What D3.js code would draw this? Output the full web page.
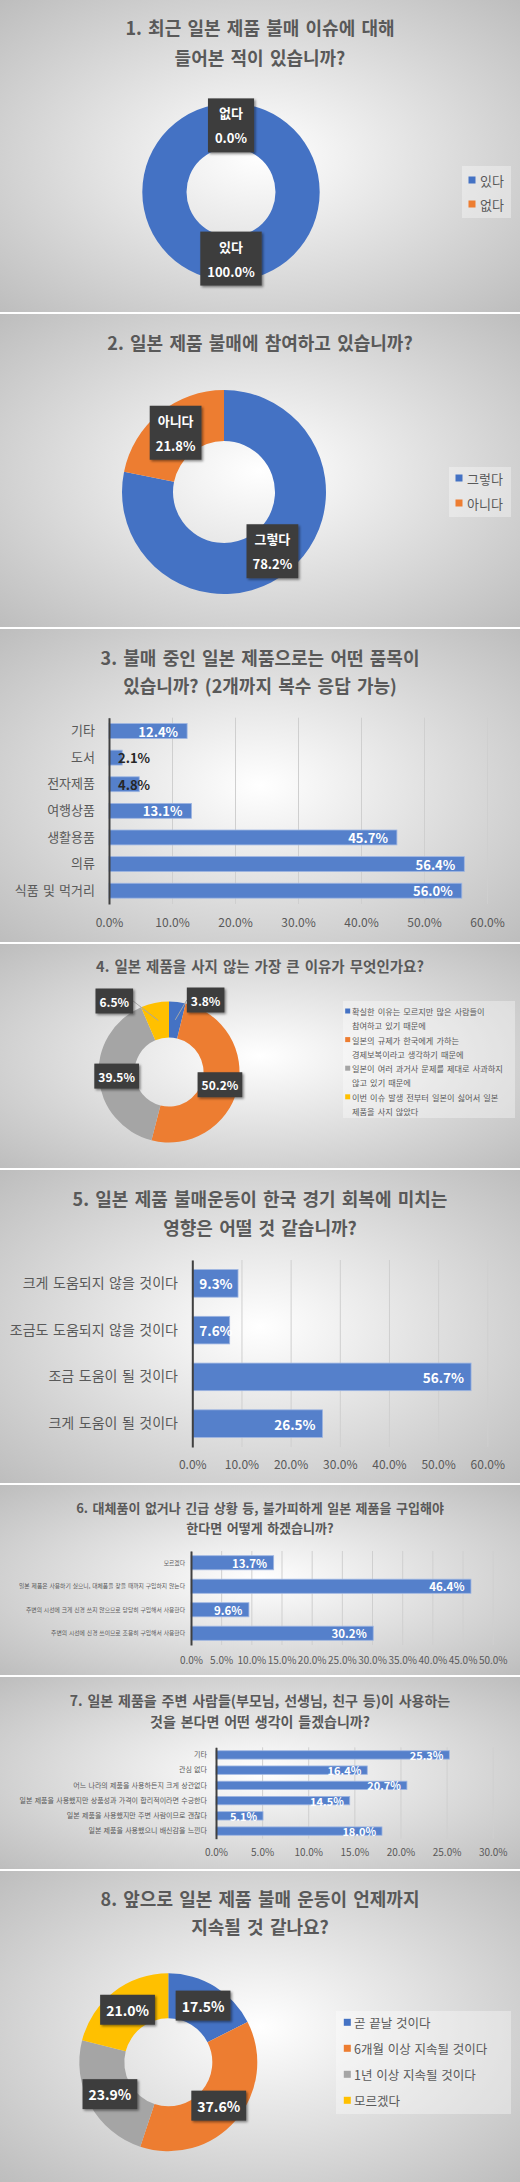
<!DOCTYPE html>
<html>
<head>
<meta charset="UTF-8">
<title>일본 제품 불매 설문</title>
<script src="https://d3js.org/d3.v7.min.js"></script>
<style>
  body { margin: 0; background: #fff; }
  svg text { font-family: "Noto Sans CJK KR", "Noto Sans", sans-serif; }
</style>
</head>
<body>
<div id="chart"></div>
<script>
// ---- data ----
const sliceColors = ["#4472C4", "#ED7D31", "#A5A5A5", "#FFC000"];

const q1Title = ["1. 최근 일본 제품 불매 이슈에 대해", "들어본 적이 있습니까?"];
const q1Labels = ["있다", "없다"];
const q1Values = [100.0, 0.0];

const q2Title = ["2. 일본 제품 불매에 참여하고 있습니까?"];
const q2Labels = ["그렇다", "아니다"];
const q2Values = [78.2, 21.8];

const q3Title = ["3. 불매 중인 일본 제품으로는 어떤 품목이", "있습니까? (2개까지 복수 응답 가능)"];
const q3Categories = ["기타", "도서", "전자제품", "여행상품", "생활용품", "의류", "식품 및 먹거리"];
const q3Values = [12.4, 2.1, 4.8, 13.1, 45.7, 56.4, 56.0];

const q4Title = ["4. 일본 제품을 사지 않는 가장 큰 이유가 무엇인가요?"];
const q4Legend = [
  ["확실한 이유는 모르지만 많은 사람들이", "참여하고 있기 때문에"],
  ["일본의 규제가 한국에게 가하는", "경제보복이라고 생각하기 때문에"],
  ["일본이 여러 과거사 문제를 제대로 사과하지", "않고 있기 때문에"],
  ["이번 이슈 발생 전부터 일본이 싫어서 일본", "제품을 사지 않았다"]
];
const q4Values = [3.8, 50.2, 39.5, 6.5];

const q5Title = ["5. 일본 제품 불매운동이 한국 경기 회복에 미치는", "영향은 어떨 것 같습니까?"];
const q5Categories = ["크게 도움되지 않을 것이다", "조금도 도움되지 않을 것이다", "조금 도움이 될 것이다", "크게 도움이 될 것이다"];
const q5Values = [9.3, 7.6, 56.7, 26.5];

const q6Title = ["6. 대체품이 없거나 긴급 상황 등, 불가피하게 일본 제품을 구입해야", "한다면 어떻게 하겠습니까?"];
const q6Categories = [
  "모르겠다",
  "일본 제품은 사용하기 싫으니, 대체품을 찾을 때까지 구입하지 않는다",
  "주변의 시선에 크게 신경 쓰지 않으므로 당당히 구입해서 사용한다",
  "주변의 시선에 신경 쓰이므로 조용히 구입해서 사용한다"
];
const q6Values = [13.7, 46.4, 9.6, 30.2];

const q7Title = ["7. 일본 제품을 주변 사람들(부모님, 선생님, 친구 등)이 사용하는", "것을 본다면 어떤 생각이 들겠습니까?"];
const q7Categories = [
  "기타",
  "관심 없다",
  "어느 나라의 제품을 사용하든지 크게 상관없다",
  "일본 제품을 사용했지만 상품성과 가격이 합리적이라면 수긍한다",
  "일본 제품을 사용했지만 주변 사람이므로 괜찮다",
  "일본 제품을 사용했으니 배신감을 느낀다"
];
const q7Values = [25.3, 16.4, 20.7, 14.5, 5.1, 18.0];

const q8Title = ["8. 앞으로 일본 제품 불매 운동이 언제까지", "지속될 것 같나요?"];
const q8Labels = ["곧 끝날 것이다", "6개월 이상 지속될 것이다", "1년 이상 지속될 것이다", "모르겠다"];
const q8Values = [17.5, 37.6, 23.9, 21.0];

// ---- layout ----
const W = 520, H = 2182;
const panelBounds = [[0, 312], [314, 627], [629, 942], [944, 1168], [1170, 1483], [1485, 1675], [1677, 1869], [1871, 2182]];
const textColor = "#595959";
const pct = v => v.toFixed(1) + "%";

const svg = d3.select("#chart").append("svg")
    .attr("width", W)
    .attr("height", H);

const defs = svg.append("defs");
const grad = defs.append("radialGradient").attr("id", "bg")
    .attr("cx", "50%").attr("cy", "50%").attr("r", "72%");
grad.append("stop").attr("offset", "0%").attr("stop-color", "#ffffff");
grad.append("stop").attr("offset", "100%").attr("stop-color", "#bcbcbc");

const shadow = defs.append("filter").attr("id", "shadow")
    .attr("x", "-20%").attr("y", "-20%").attr("width", "150%").attr("height", "150%");
shadow.append("feDropShadow").attr("dx", 1.5).attr("dy", 1.5).attr("stdDeviation", 1)
    .attr("flood-color", "#000").attr("flood-opacity", 0.45);

panelBounds.forEach(([y0, y1]) => {
  svg.append("rect")
      .attr("x", 0).attr("y", y0)
      .attr("width", W).attr("height", y1 - y0)
      .attr("fill", "url(#bg)");
});

function drawTitle(lines, ys, size) {
  lines.forEach((t, i) => {
    svg.append("text")
        .attr("x", W / 2).attr("y", ys[i])
        .attr("text-anchor", "middle")
        .attr("dominant-baseline", "central")
        .attr("font-size", size)
        .attr("font-weight", "bold")
        .attr("word-spacing", size * 0.12)
        .attr("fill", textColor)
        .text(t);
  });
}

function labelBox(parent, x, y, lines, o) {
  const g = parent.append("g");
  const rect = g.append("rect");
  const n = lines.length;
  let maxW = 0;
  lines.forEach((t, k) => {
    const tx = g.append("text")
        .attr("x", x).attr("y", y + (k - (n - 1) / 2) * o.lineGap)
        .attr("text-anchor", "middle")
        .attr("dominant-baseline", "central")
        .attr("font-size", o.font)
        .attr("font-weight", "bold")
        .attr("fill", "#fff")
        .text(t);
    maxW = Math.max(maxW, tx.node().getComputedTextLength());
  });
  const w = maxW + 2 * o.padX, h = o.boxH;
  rect.attr("x", x - w / 2).attr("y", y - h / 2)
      .attr("width", w).attr("height", h)
      .attr("fill", "#3d3d3d")
      .attr("filter", "url(#shadow)");
  return { g, x: x - w / 2, w };
}

function drawDonut(o) {
  const g = svg.append("g").attr("transform", `translate(${o.cx},${o.cy})`);
  const arcs = d3.pie().sort(null)(o.values);
  const arc = d3.arc().innerRadius(o.rInner).outerRadius(o.rOuter);

  g.selectAll("path")
    .data(arcs)
    .join("path")
      .attr("d", arc)
      .attr("fill", (d, i) => sliceColors[i]);

  arcs.forEach((d, i) => {
    let [lx, ly] = arc.centroid(d);
    const lines = o.names ? [o.names[i], pct(d.data)] : [pct(d.data)];
    const nudge = o.nudge ? o.nudge[i] : 0;
    const anchor = [lx, ly];
    if (nudge) {
      const mid = (d.startAngle + d.endAngle) / 2;
      const r = o.rOuter + 2;
      lx = Math.sin(mid) * r + nudge;
      ly = -Math.cos(mid) * r;
    }
    const box = labelBox(g, lx, ly, lines, o);
    if (nudge) {
      const ex = nudge > 0 ? box.x : box.x + box.w;
      g.insert("line", () => box.g.node())
          .attr("x1", ex).attr("y1", ly)
          .attr("x2", anchor[0]).attr("y2", anchor[1])
          .attr("stroke", "#a6a6a6")
          .attr("stroke-width", 1);
    }
  });
}

function drawLegend(o) {
  svg.append("rect")
      .attr("x", o.x).attr("y", o.y)
      .attr("width", o.w).attr("height", o.h)
      .attr("fill", "#fff").attr("fill-opacity", 0.35);
  o.entries.forEach((lines, i) => {
    const ry = o.firstY + i * o.rowGap;
    svg.append("rect")
        .attr("x", o.markerX - o.marker / 2).attr("y", ry - o.marker / 2)
        .attr("width", o.marker).attr("height", o.marker)
        .attr("fill", sliceColors[i]);
    [].concat(lines).forEach((t, k) => {
      svg.append("text")
          .attr("x", o.textX).attr("y", ry + k * (o.lineGap || 0))
          .attr("dominant-baseline", "central")
          .attr("font-size", o.font)
          .attr("word-spacing", o.wordSpacing || 0)
          .attr("fill", textColor)
          .text(t);
    });
  });
}

function drawBars(o) {
  const x = d3.scaleLinear().domain([0, o.max]).range([o.x0, o.x1]);
  const y = d3.scaleBand().domain(o.categories).range([o.top, o.bottom])
      .paddingInner(o.padding).paddingOuter(o.padding / 2);
  const ticks = d3.range(0, o.max + o.step / 2, o.step);

  // gridlines
  svg.append("g")
      .attr("transform", `translate(0,${o.bottom})`)
      .call(d3.axisBottom(x).tickValues(ticks).tickSize(-(o.bottom - o.top)).tickFormat(""))
      .call(g => g.select(".domain").remove())
      .call(g => g.selectAll("line").attr("stroke", "#cfcfcf").attr("stroke-width", 1));

  // tick labels
  svg.append("g")
      .attr("transform", `translate(0,${o.bottom})`)
      .call(d3.axisBottom(x).tickValues(ticks).tickSize(0).tickFormat(pct))
      .call(g => g.select(".domain").remove())
      .call(g => g.selectAll("text")
          .attr("y", o.tickY - o.bottom).attr("dy", "0.35em")
          .attr("font-size", o.tickFont)
          .attr("fill", textColor));

  // bars
  svg.append("g")
    .selectAll("rect")
    .data(o.values)
    .join("rect")
      .attr("x", x(0))
      .attr("y", (d, i) => y(o.categories[i]))
      .attr("width", d => x(d) - x(0))
      .attr("height", y.bandwidth())
      .attr("fill", "#5580CB")
      .attr("stroke", "#9fb6e2")
      .attr("stroke-width", 0.8);

  // category axis
  svg.append("g")
      .attr("transform", `translate(${o.x0},0)`)
      .call(d3.axisLeft(y).tickSize(0).tickSizeOuter(0).tickPadding(o.x0 - o.catX))
      .call(g => g.select(".domain").attr("stroke", "#404040").attr("stroke-width", 2))
      .call(g => g.selectAll("text")
          .attr("font-size", o.catFont)
          .attr("word-spacing", o.catFont * 0.1)
          .attr("fill", textColor));

  // value labels
  const vg = svg.append("g");
  o.values.forEach((v, i) => {
    const end = x(v) - o.valuePad;
    const t = vg.append("text")
        .attr("x", end)
        .attr("y", y(o.categories[i]) + y.bandwidth() / 2)
        .attr("text-anchor", "end")
        .attr("dominant-baseline", "central")
        .attr("font-size", o.valueFont)
        .attr("font-weight", "bold")
        .attr("fill", "#fff")
        .text(pct(v));
    const tw = t.node().getComputedTextLength();
    if (end - tw < x(0) + o.valuePad) {
      t.attr("text-anchor", "start").attr("x", x(0) + o.valuePad).attr("fill", o.overflowColor);
    }
  });
}

// ---- 1 ----
drawTitle(q1Title, [27, 57], 18);
drawDonut({ cx: 231, cy: 192, rOuter: 88.7, rInner: 44.5, values: q1Values, names: q1Labels,
  font: 13, lineGap: 25, boxH: 54, padX: 7 });
drawLegend({ x: 462, y: 166, w: 49, h: 52, entries: q1Labels, firstY: 180, rowGap: 24,
  markerX: 472, textX: 480, marker: 7, font: 13 });

// ---- 2 ----
drawTitle(q2Title, [342], 18);
drawDonut({ cx: 224, cy: 492, rOuter: 102, rInner: 51, values: q2Values, names: q2Labels,
  font: 13, lineGap: 25, boxH: 54, padX: 6 });
drawLegend({ x: 449, y: 467, w: 62, h: 50, entries: q2Labels, firstY: 478, rowGap: 25,
  markerX: 459, textX: 467, marker: 7, font: 13 });

// ---- 3 ----
drawTitle(q3Title, [657, 685], 18);
drawBars({ categories: q3Categories, values: q3Values, max: 60, step: 10,
  x0: 109, x1: 487, top: 717.7, bottom: 904, padding: 0.44,
  catX: 95, catFont: 13, tickY: 923, tickFont: 12, valueFont: 13, valuePad: 9, overflowColor: "#262626" });

// ---- 4 ----
drawTitle(q4Title, [965], 14.5);
drawDonut({ cx: 169, cy: 1072, rOuter: 70.5, rInner: 34.5, values: q4Values,
  font: 12, lineGap: 0, boxH: 25, padX: 4, nudge: [28, 0, 0, -40] });
drawLegend({ x: 343, y: 1001, w: 172, h: 117, entries: q4Legend, firstY: 1011, rowGap: 28.6, lineGap: 14,
  markerX: 347.7, textX: 352, marker: 5, font: 8.2, wordSpacing: 1.2 });

// ---- 5 ----
drawTitle(q5Title, [1198, 1227], 18);
drawBars({ categories: q5Categories, values: q5Values, max: 60, step: 10,
  x0: 192.3, x1: 487.3, top: 1260, bottom: 1447, padding: 0.41,
  catX: 178, catFont: 14, tickY: 1465, tickFont: 12, valueFont: 13.5, valuePad: 7, overflowColor: "#fff" });

// ---- 6 ----
drawTitle(q6Title, [1507, 1527], 13);
drawBars({ categories: q6Categories, values: q6Values, max: 50, step: 5,
  x0: 191, x1: 492.7, top: 1551, bottom: 1645, padding: 0.4,
  catX: 185, catFont: 5.8, tickY: 1660, tickFont: 10, valueFont: 11.5, valuePad: 6.5, overflowColor: "#fff" });

// ---- 7 ----
drawTitle(q7Title, [1700, 1721], 14);
drawBars({ categories: q7Categories, values: q7Values, max: 30, step: 5,
  x0: 216, x1: 492.7, top: 1747.3, bottom: 1838.7, padding: 0.45,
  catX: 207, catFont: 7, tickY: 1853, tickFont: 10, valueFont: 11, valuePad: 6, overflowColor: "#fff" });

// ---- 8 ----
drawTitle(q8Title, [1898, 1926], 18);
drawDonut({ cx: 168.3, cy: 2062.3, rOuter: 89, rInner: 44, values: q8Values,
  font: 14, lineGap: 0, boxH: 30, padX: 6 });
drawLegend({ x: 336, y: 2011, w: 175, h: 103, entries: q8Labels, firstY: 2022.3, rowGap: 26,
  markerX: 347.3, textX: 354, marker: 7, font: 12.5, wordSpacing: 1 });
</script>
</body>
</html>
